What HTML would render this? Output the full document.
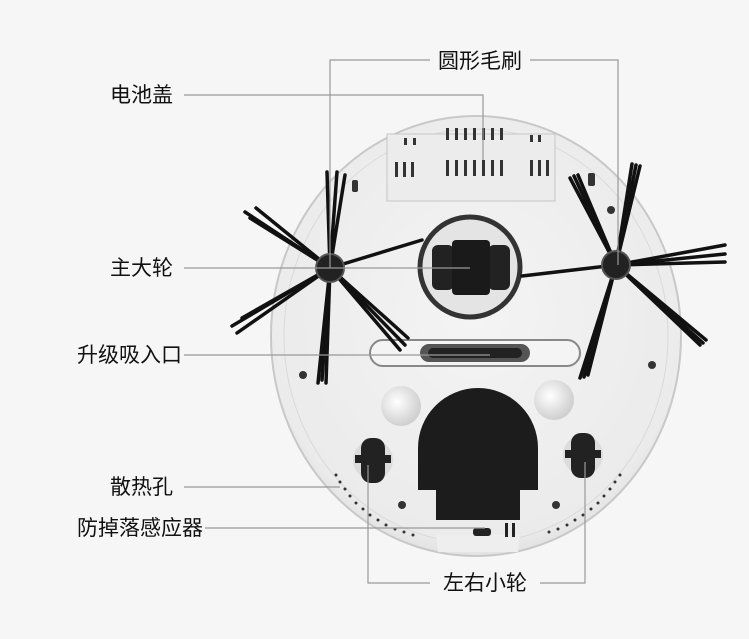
<!DOCTYPE html>
<html><head><meta charset="utf-8"><style>
html,body{margin:0;padding:0;background:#f6f6f6;}
svg{display:block}
text{font-family:"Liberation Sans","Noto Sans CJK SC",sans-serif;font-size:21px;fill:#111;}
</style></head><body>
<svg width="749" height="639" viewBox="0 0 749 639" xmlns="http://www.w3.org/2000/svg">
<rect width="749" height="639" fill="#f6f6f6"/>
<defs>
<radialGradient id="body" cx="50%" cy="45%" r="60%">
<stop offset="0" stop-color="#f4f4f4"/><stop offset="0.85" stop-color="#ebebeb"/><stop offset="1" stop-color="#d8d8d8"/>
</radialGradient>
<radialGradient id="bump" cx="40%" cy="40%" r="60%">
<stop offset="0" stop-color="#fff"/><stop offset="1" stop-color="#cfcfcf"/>
</radialGradient>
</defs>
<!-- body -->
<ellipse cx="476" cy="336" rx="205" ry="220" fill="url(#body)" stroke="#c8c8c8" stroke-width="2"/>
<ellipse cx="476" cy="336" rx="192" ry="207" fill="none" stroke="#dadada" stroke-width="1"/>
<path d="M436 535 H520 L518 552 H438 Z" fill="#eee"/>
<!-- battery cover -->
<rect x="387" y="134" width="168" height="67" fill="#ececec" stroke="#c6c6c6"/>
<g fill="#333">
<rect x="446" y="128" width="3" height="12"/><rect x="455" y="128" width="3" height="12"/><rect x="464" y="128" width="3" height="12"/><rect x="473" y="128" width="3" height="12"/><rect x="482" y="128" width="3" height="12"/><rect x="491" y="128" width="3" height="12"/><rect x="500" y="128" width="3" height="12"/>
<rect x="446" y="160" width="3" height="16"/><rect x="455" y="160" width="3" height="16"/><rect x="464" y="160" width="3" height="16"/><rect x="473" y="160" width="3" height="16"/><rect x="482" y="160" width="3" height="16"/><rect x="491" y="160" width="3" height="16"/><rect x="500" y="160" width="3" height="16"/>
<rect x="395" y="162" width="3" height="15"/><rect x="403" y="162" width="3" height="15"/><rect x="411" y="162" width="3" height="15"/>
<rect x="530" y="160" width="3" height="16"/><rect x="538" y="160" width="3" height="16"/><rect x="546" y="160" width="3" height="16"/>
<rect x="404" y="138" width="3" height="7"/><rect x="413" y="138" width="3" height="7"/>
<rect x="530" y="135" width="3" height="7"/><rect x="538" y="135" width="3" height="7"/>
<rect x="352" y="180" width="6" height="12" rx="2"/><rect x="588" y="173" width="7" height="13" rx="2"/>
<circle cx="611" cy="210" r="4"/><circle cx="303" cy="375" r="4"/><circle cx="652" cy="365" r="4"/>
<circle cx="402" cy="505" r="4"/><circle cx="556" cy="505" r="4"/>
</g>
<!-- center wheel -->
<circle cx="470" cy="267" r="50" fill="#e4e4e4" stroke="#333" stroke-width="5"/>
<rect x="432" y="245" width="22" height="45" rx="6" fill="#222"/>
<rect x="488" y="245" width="22" height="45" rx="6" fill="#222"/>
<rect x="452" y="240" width="38" height="55" rx="4" fill="#1a1a1a"/>
<!-- slot -->
<rect x="370" y="340" width="210" height="26" rx="13" fill="#f4f4f4" stroke="#888" stroke-width="2"/>
<rect x="420" y="344" width="110" height="18" rx="9" fill="#555"/>
<rect x="428" y="348" width="94" height="10" rx="5" fill="#222"/>
<!-- bumps -->
<circle cx="401" cy="406" r="20" fill="url(#bump)"/>
<circle cx="554" cy="400" r="20" fill="url(#bump)"/>
<!-- compartment -->
<path d="M418 448 A60 60 0 0 1 538 448 L538 490 L520 490 L520 520 L436 520 L436 490 L418 490 Z" fill="#1c1c1c"/>
<!-- small wheels -->
<circle cx="373" cy="460" r="20" fill="#dcdcdc"/>
<rect x="361" y="438" width="24" height="45" rx="10" fill="#222"/><rect x="355" y="455" width="36" height="8" fill="#222"/>
<circle cx="583" cy="455" r="20" fill="#dcdcdc"/>
<rect x="571" y="433" width="24" height="45" rx="10" fill="#222"/><rect x="565" y="450" width="36" height="8" fill="#222"/>
<!-- bottom details -->
<rect x="473" y="528" width="18" height="8" rx="3" fill="#222"/>
<rect x="505" y="523" width="3" height="14" fill="#222"/><rect x="512" y="523" width="3" height="14" fill="#222"/>
<g fill="#333">
<circle cx="336" cy="475" r="1.5"/><circle cx="340" cy="482" r="1.5"/><circle cx="345" cy="489" r="1.5"/><circle cx="350" cy="496" r="1.5"/><circle cx="356" cy="503" r="1.5"/><circle cx="363" cy="509" r="1.5"/><circle cx="370" cy="515" r="1.5"/><circle cx="378" cy="520" r="1.5"/><circle cx="386" cy="525" r="1.5"/><circle cx="395" cy="529" r="1.5"/><circle cx="404" cy="532" r="1.5"/><circle cx="413" cy="535" r="1.5"/>
<circle cx="620" cy="475" r="1.5"/><circle cx="615" cy="482" r="1.5"/><circle cx="610" cy="489" r="1.5"/><circle cx="604" cy="496" r="1.5"/><circle cx="598" cy="503" r="1.5"/><circle cx="591" cy="509" r="1.5"/><circle cx="583" cy="515" r="1.5"/><circle cx="575" cy="520" r="1.5"/><circle cx="567" cy="525" r="1.5"/><circle cx="558" cy="529" r="1.5"/><circle cx="549" cy="532" r="1.5"/>
</g>
<!-- brushes -->
<g stroke="#111" stroke-linecap="round" stroke-width="3.5">
<line x1="330" y1="268" x2="327" y2="172"/><line x1="330" y1="268" x2="337" y2="172"/><line x1="330" y1="268" x2="345" y2="175"/>
<line x1="330" y1="268" x2="245" y2="212"/><line x1="330" y1="268" x2="250" y2="218"/><line x1="330" y1="268" x2="256" y2="208"/>
<line x1="330" y1="268" x2="232" y2="326"/><line x1="330" y1="268" x2="237" y2="333"/><line x1="330" y1="268" x2="242" y2="318"/>
<line x1="330" y1="268" x2="318" y2="383"/><line x1="330" y1="268" x2="326" y2="383"/><line x1="330" y1="268" x2="322" y2="380"/>
<line x1="330" y1="268" x2="405" y2="345"/><line x1="330" y1="268" x2="400" y2="350"/><line x1="330" y1="268" x2="408" y2="338"/>
<line x1="330" y1="268" x2="422" y2="240"/>
<line x1="616" y1="265" x2="570" y2="178"/><line x1="616" y1="265" x2="578" y2="175"/><line x1="616" y1="265" x2="574" y2="176"/>
<line x1="616" y1="265" x2="632" y2="164"/><line x1="616" y1="265" x2="640" y2="166"/><line x1="616" y1="265" x2="636" y2="165"/>
<line x1="616" y1="265" x2="725" y2="245"/><line x1="616" y1="265" x2="725" y2="262"/><line x1="616" y1="265" x2="725" y2="254"/>
<line x1="616" y1="265" x2="700" y2="345"/><line x1="616" y1="265" x2="706" y2="340"/><line x1="616" y1="265" x2="703" y2="343"/>
<line x1="616" y1="265" x2="580" y2="378"/><line x1="616" y1="265" x2="588" y2="375"/><line x1="616" y1="265" x2="584" y2="377"/>
<line x1="616" y1="265" x2="522" y2="276"/>
</g>
<circle cx="330" cy="268" r="14" fill="#222" stroke="#555" stroke-width="2"/>
<circle cx="616" cy="265" r="14" fill="#222" stroke="#555" stroke-width="2"/>
<!-- leader lines -->
<g stroke="#999" stroke-width="1.2" fill="none">
<path d="M330 268 V60 H430"/><path d="M530 60 H618 V265"/>
<path d="M184 95 H483 V160"/>
<path d="M184 268 H470"/>
<path d="M184 355 H490"/>
<path d="M184 487 H340"/>
<path d="M205 528 H485"/>
<path d="M368 465 V583 H430"/><path d="M540 583 H585 V462"/>
</g>
<!-- labels -->
<text x="438" y="68">圆形毛刷</text>
<text x="110" y="102">电池盖</text>
<text x="110" y="275">主大轮</text>
<text x="77" y="362">升级吸入口</text>
<text x="110" y="494">散热孔</text>
<text x="77" y="535">防掉落感应器</text>
<text x="443" y="590">左右小轮</text>
</svg>
</body></html>
